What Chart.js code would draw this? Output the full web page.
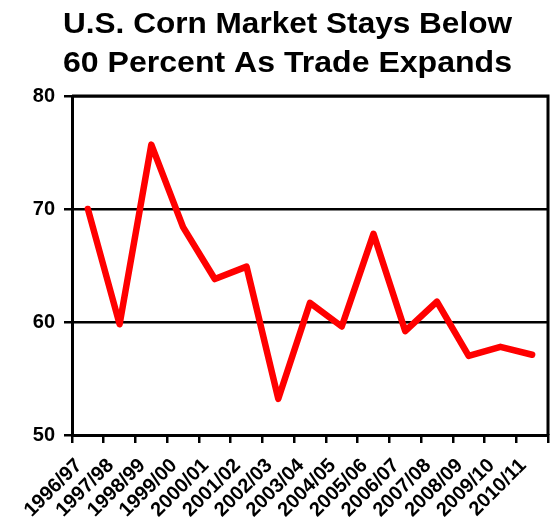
<!DOCTYPE html>
<html>
<head>
<meta charset="utf-8">
<script src="https://cdn.jsdelivr.net/npm/chart.js@4/dist/chart.umd.min.js"></script>
<style>
  html, body { margin: 0; padding: 0; background: #fff; }
  #wrap { width: 553px; height: 519px; }
</style>
</head>
<body>
<div id="wrap"><canvas id="c" width="553" height="519"></canvas></div>
<script>
// Marketing years on the horizontal axis
const years = ['1996/97', '1997/98', '1998/99', '1999/00', '2000/01', '2001/02', '2002/03',
  '2003/04', '2004/05', '2005/06', '2006/07', '2007/08', '2008/09', '2009/10', '2010/11'];

// U.S. share of the world corn market, percent
const usShare = [70.0, 59.8, 75.7, 68.4, 63.8, 64.9, 53.2, 61.7, 59.6, 67.8, 59.2, 61.8, 57.0, 57.8, 57.1];

// Value axis bounds and step
const yMin = 50;
const yMax = 80;
const yStep = 10;

const titleLines = ['U.S. Corn Market Stays Below', '60 Percent As Trade Expands'];

const FONT = '"Liberation Sans", Arial, sans-serif';

// Title text and the frame around the plot area
const framePlugin = {
  id: 'frame',
  afterDraw(chart) {
    const { ctx, chartArea: a } = chart;
    ctx.save();
    ctx.strokeStyle = '#000';
    ctx.lineWidth = 3;
    ctx.beginPath();
    ctx.moveTo(a.left, a.top);
    ctx.lineTo(a.right, a.top);
    ctx.lineTo(a.right, a.bottom);
    ctx.stroke();

    ctx.fillStyle = '#000';
    ctx.font = 'bold 29px ' + FONT;
    ctx.textAlign = 'center';
    ctx.textBaseline = 'alphabetic';
    const cx = 287.5;
    const targetWidth = 449;
    const baselines = [33, 72];
    titleLines.forEach((line, i) => {
      const w = ctx.measureText(line).width;
      const sx = targetWidth / w;
      ctx.save();
      ctx.translate(cx, baselines[i]);
      ctx.scale(sx, 1);
      ctx.fillText(line, 0, 0);
      ctx.restore();
    });
    ctx.restore();
  }
};

new Chart(document.getElementById('c'), {
  type: 'line',
  data: {
    labels: years,
    datasets: [{
      data: usShare,
      borderColor: '#ff0000',
      borderWidth: 6.5,
      pointRadius: 0,
      pointHoverRadius: 0,
      tension: 0,
      borderJoinStyle: 'round',
      borderCapStyle: 'round',
      fill: false
    }]
  },
  options: {
    responsive: false,
    animation: false,
    events: [],
    layout: { padding: { top: 96, right: 5, left: 0, bottom: 0 } },
    plugins: {
      legend: { display: false },
      title: { display: false },
      tooltip: { enabled: false }
    },
    scales: {
      x: {
        type: 'category',
        offset: true,
        grid: {
          offset: true,
          drawOnChartArea: false,
          drawTicks: true,
          tickLength: 8,
          tickWidth: 2.5,
          tickColor: '#000',
          color: '#000',
          lineWidth: 2.5
        },
        border: { display: true, color: '#000', width: 3 },
        ticks: {
          autoSkip: false,
          minRotation: 45,
          maxRotation: 45,
          padding: 11,
          labelOffset: -9,
          color: '#000',
          font: { family: FONT, size: 20, weight: 'bold' }
        },
        afterFit(scale) {
          scale.height = 84;
          scale.paddingLeft = 0;
          scale.paddingRight = 0;
        }
      },
      y: {
        min: yMin,
        max: yMax,
        grid: {
          color: '#000',
          lineWidth: 2.5,
          drawTicks: true,
          tickLength: 8,
          tickColor: '#000'
        },
        border: { display: true, color: '#000', width: 3 },
        ticks: {
          stepSize: yStep,
          padding: 9,
          color: '#000',
          font: { family: FONT, size: 20, weight: 'bold' }
        },
        afterFit(scale) {
          scale.width = 72;
          scale.paddingTop = 0;
          scale.paddingBottom = 0;
        }
      }
    }
  },
  plugins: [framePlugin]
});
</script>
</body>
</html>
